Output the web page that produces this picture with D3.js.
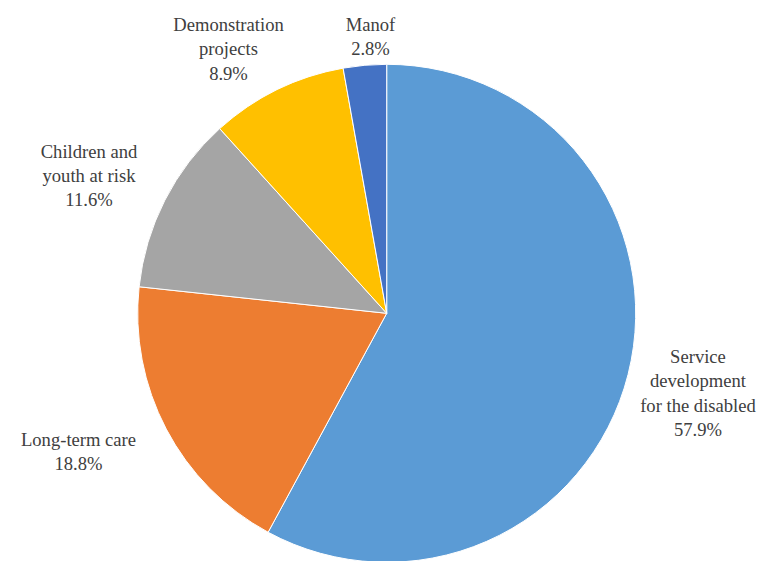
<!DOCTYPE html>
<html>
<head>
<meta charset="utf-8">
<script src="https://cdn.jsdelivr.net/npm/d3@7"></script>
<style>
  html, body { margin: 0; padding: 0; background: #fff; }
  svg { display: block; }
</style>
</head>
<body>
<svg id="chart" width="768" height="561"></svg>
<script>
// Budget shares by programme area, clockwise from 12 o'clock
const categories = ["Service development for the disabled", "Long-term care", "Children and youth at risk", "Demonstration projects", "Manof"];
const values = [57.9, 18.8, 11.6, 8.9, 2.8];
const colors = ["#5B9BD5", "#ED7D31", "#A5A5A5", "#FFC000", "#4472C4"];
// Label lines (category name broken into rows, then percentage)
const labelLines = [
  ["Service", "development", "for the disabled"],
  ["Long-term care"],
  ["Children and", "youth at risk"],
  ["Demonstration", "projects"],
  ["Manof"]
];
// Anchor of each label block: centre x and first baseline y
const labelAnchors = [[698, 363], [78.5, 446], [89, 157.5], [228.5, 31], [370.5, 31]];

const svg = d3.select("#chart");
const cx = 386.7, cy = 313.3, radius = 249;
const lineH = 24.4;

const data = categories.map((c, i) => ({ name: c, value: values[i], color: colors[i], lines: labelLines[i], anchor: labelAnchors[i] }));

const pie = d3.pie().value(d => d.value).sort(null);
const arc = d3.arc().innerRadius(0).outerRadius(radius);

const g = svg.append("g").attr("transform", `translate(${cx},${cy})`);
g.selectAll("path")
  .data(pie(data))
  .join("path")
  .attr("d", arc)
  .attr("fill", d => d.data.color)
  .attr("stroke", "#fff")
  .attr("stroke-width", 1);

const fmt = d3.format(".1f");
const labels = svg.selectAll("text.lbl")
  .data(data)
  .join("text")
  .attr("class", "lbl")
  .attr("text-anchor", "middle")
  .attr("font-family", "Liberation Serif, DejaVu Serif, Noto Serif, FreeSerif, Tinos, serif")
  .attr("font-size", 18.6)
  .attr("fill", "#404040");

labels.each(function(d) {
  const t = d3.select(this);
  const rows = d.lines.concat([fmt(d.value) + "%"]);
  rows.forEach((r, k) => {
    t.append("tspan")
      .attr("x", d.anchor[0])
      .attr("y", d.anchor[1] + k * lineH)
      .text(r);
  });
});
</script>
</body>
</html>
